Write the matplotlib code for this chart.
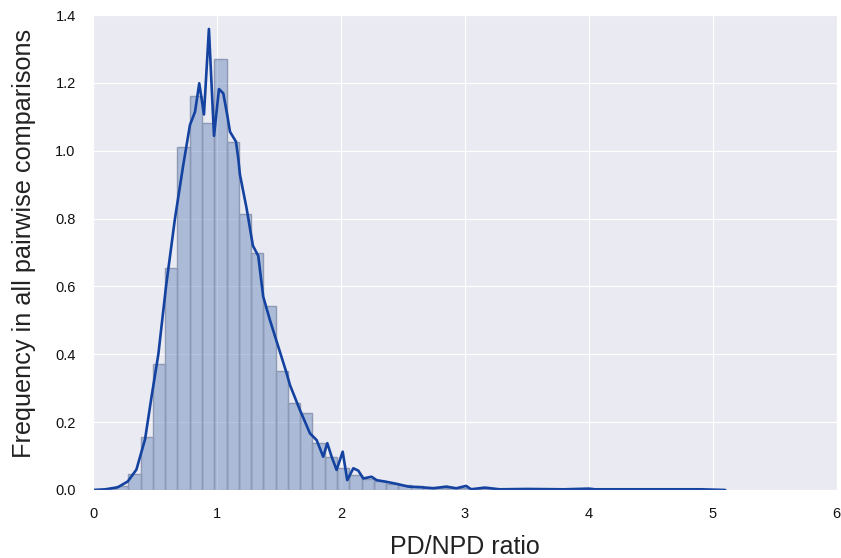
import numpy as np
import matplotlib
matplotlib.use('Agg')
import matplotlib.pyplot as plt
import seaborn as sns

# histogram of PD/NPD ratios (density), equal width bins
bin_start = 0.087
bin_width = 0.099
bar_heights = [0.003, 0.012, 0.048, 0.157, 0.370, 0.655, 1.010, 1.160, 1.083, 1.270,
               1.027, 0.815, 0.698, 0.542, 0.351, 0.255, 0.226, 0.138, 0.098, 0.064,
               0.045, 0.031, 0.025, 0.018, 0.014, 0.011, 0.009, 0.007, 0.006, 0.006,
               0.004, 0.003, 0.003, 0.002, 0.002, 0.002, 0.001, 0.001, 0.001, 0.001,
               0.001, 0.001, 0.001, 0.001, 0.001, 0.001, 0.001, 0.001, 0.001, 0.001]

# density curve
kde_x = [0.0, 0.10, 0.20, 0.28, 0.35, 0.42, 0.47, 0.527, 0.589, 0.661, 0.728,
         0.782, 0.823, 0.857, 0.895, 0.935, 0.976, 1.016, 1.051, 1.083, 1.105,
         1.153, 1.172, 1.185, 1.239, 1.290, 1.333, 1.373, 1.427, 1.495, 1.562,
         1.589, 1.669, 1.750, 1.804, 1.857, 1.890, 1.925, 1.965, 2.014, 2.051,
         2.100, 2.140, 2.180, 2.247, 2.288, 2.368, 2.450, 2.543, 2.650, 2.744,
         2.850, 2.930, 3.010, 3.050, 3.160, 3.280, 3.500, 3.800, 4.000, 4.050,
         4.300, 4.600, 4.900, 5.100]
kde_y = [0.0, 0.002, 0.008, 0.025, 0.060, 0.150, 0.270, 0.400, 0.600, 0.800, 0.958,
         1.076, 1.115, 1.199, 1.107, 1.359, 1.044, 1.182, 1.169, 1.105, 1.056,
         1.027, 0.977, 0.930, 0.830, 0.720, 0.690, 0.570, 0.501, 0.422, 0.344,
         0.309, 0.236, 0.167, 0.147, 0.098, 0.138, 0.098, 0.059, 0.113, 0.029,
         0.064, 0.057, 0.034, 0.039, 0.029, 0.024, 0.018, 0.010, 0.008, 0.005,
         0.010, 0.005, 0.012, 0.002, 0.007, 0.002, 0.003, 0.002, 0.004, 0.002,
         0.002, 0.002, 0.002, 0.0]

sns.set_style('darkgrid')
plt.rcParams['font.family'] = ['Liberation Sans', 'DejaVu Sans']

fig = plt.figure(figsize=(8.41, 5.58), dpi=100)
ax = fig.add_axes([0.1106, 0.1219, 0.8844, 0.8511])

lefts = bin_start + bin_width * np.arange(len(bar_heights))
ax.bar(lefts, bar_heights, width=bin_width, align='edge',
       color=(0.298, 0.447, 0.690, 0.4), edgecolor='#8E9AB4', linewidth=1.0)
ax.plot(kde_x, kde_y, color='#1442A0', linewidth=1.9)

ax.set_xlim(0, 6)
ax.set_ylim(0, 1.4)
ax.set_xticks([0, 1, 2, 3, 4, 5, 6])
ax.set_yticks([0.0, 0.2, 0.4, 0.6, 0.8, 1.0, 1.2, 1.4])
ax.set_yticklabels(['0.0', '0.2', '0.4', '0.6', '0.8', '1.0', '1.2', '1.4'])
ax.tick_params(labelsize=10.5, colors='#111111', pad=9)
ax.set_xlabel('PD/NPD ratio', fontsize=18, labelpad=10, color='#222222')
ax.set_ylabel('Frequency in all pairwise comparisons', fontsize=18.2,
              color='#222222')
ax.yaxis.set_label_coords(-0.076, 0.52)

fig.savefig('out.png', dpi=100)
